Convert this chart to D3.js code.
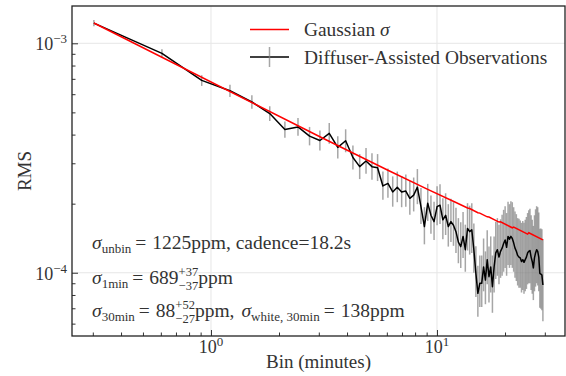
<!DOCTYPE html>
<html>
<head>
<meta charset="utf-8">
<script src="https://cdn.jsdelivr.net/npm/d3@7"></script>
<style>
body { margin: 0; background: #fff; }
text { font-family: "Liberation Serif", "Times New Roman", serif; fill: #333; }
</style>
</head>
<body>
<svg id="chart" width="566" height="376"></svg>
<script>
// cadence of the unbinned light curve, seconds
var CADENCE = 18.2;

// number of frames per bin
var binN = [1, 2, 3, 4, 5, 6, 7, 8, 9, 10,
    11, 12, 13, 14, 15, 16, 17, 18, 19, 20,
    21, 22, 23, 24, 25, 26, 27, 28, 29, 30,
    31, 32, 33, 34, 35, 36, 37, 38, 39, 40,
    41, 42, 43, 44, 45, 46, 47, 48, 49, 50,
    51, 52, 53, 54, 55, 56, 57, 58, 59, 60,
    61, 62, 63, 64, 65, 66, 67, 68, 69, 70,
    71, 72, 73, 74, 75, 76, 77, 78, 79, 80,
    81, 82, 83, 84, 85, 86, 87, 88, 89, 90,
    91, 92, 93, 94, 95, 96, 97];

// observed rms per bin size (ppm)
var rmsPpm = [1225, 904, 689, 621, 555, 494, 421, 432, 394, 377,
    405, 352, 376, 318, 290, 307, 290, 287, 239, 245,
    225, 236, 225, 227, 211, 218, 236, 194, 159, 201,
    178, 167, 194, 197, 170, 178, 159, 167, 161, 151,
    136, 130, 144, 126, 156, 151, 154, 126, 99.4, 81.3,
    89.9, 89.9, 106, 92.9, 114, 96.1, 106, 86.9, 106, 122,
    126, 117, 124, 128, 134, 139, 129, 144, 140, 144,
    141, 135, 128, 124, 119, 117, 116, 112, 114, 111,
    114, 117, 122, 124, 125, 117, 112, 105, 116, 122,
    126, 124, 117, 99.4, 98.7, 97.7, 88.4];

// lower / upper error (ppm)
var errLo = [37, 38, 37, 37, 37, 36, 33, 37, 35, 36,
    40, 37, 41, 36, 34, 37, 36, 36, 31, 33,
    31, 33, 32, 33, 32, 33, 37, 31, 26, 33,
    30, 28, 33, 34, 30, 32, 29, 31, 30, 29,
    26, 25, 28, 25, 31, 31, 32, 26, 21, 17,
    19, 19, 23, 20, 25, 22, 24, 20, 24, 28,
    29, 28, 29, 31, 33, 34, 32, 36, 35, 36,
    36, 34, 33, 32, 31, 31, 30, 30, 30, 30,
    31, 32, 33, 34, 35, 33, 31, 29, 33, 35,
    36, 36, 34, 29, 29, 29, 27];
var errHi = [37, 39, 37, 38, 39, 38, 35, 40, 38, 40,
    44, 41, 46, 41, 39, 43, 42, 42, 37, 40,
    38, 40, 39, 41, 40, 42, 47, 40, 34, 43,
    39, 37, 44, 46, 41, 44, 40, 43, 42, 41,
    37, 36, 40, 36, 45, 45, 47, 38, 31, 26,
    29, 29, 35, 31, 39, 34, 38, 32, 38, 45,
    47, 45, 47, 51, 54, 56, 53, 60, 59, 61,
    62, 58, 57, 56, 54, 55, 53, 53, 54, 54,
    56, 58, 60, 63, 65, 61, 58, 55, 62, 67,
    69, 69, 66, 56, 57, 57, 52];

// expected gaussian sigma (ppm), read at its breakpoints
var gaussN = [1, 10, 20, 30, 40, 45, 46, 50, 51, 55, 56, 62, 63, 71, 72, 83, 84, 97];
var gaussPpm = [1226, 391.3, 279.6, 231.0, 202.3, 191.5, 190.4, 182.6, 181.9, 175.2,
    175.0, 166.3, 166.7, 157.0, 158.2, 147.3, 149.4, 139.1];

var xMajor = [1, 10];
var xMajorExp = ["0", "1"];
var yMajor = [1e-4, 1e-3];
var yMajorExp = ["\u22124", "\u22123"];
var legendLabels = ["Gaussian ", "Diffuser-Assisted Observations"];

var svg = d3.select("#chart");
var m = { left: 72, right: 565, top: 6, bottom: 336 };

var x = d3.scaleLog().domain([0.2427, 36.85]).range([m.left, m.right]);
var y = d3.scaleLog().domain([5.30e-5, 1.454e-3]).range([m.bottom, m.top]);

function minutes(n) { return n * CADENCE / 60; }

var obs = binN.map(function (n, i) {
    return { x: minutes(n), v: rmsPpm[i] * 1e-6, lo: errLo[i] * 1e-6, hi: errHi[i] * 1e-6 };
});
var gauss = gaussN.map(function (n, i) {
    return { x: minutes(n), v: gaussPpm[i] * 1e-6 };
});

// grid
var grid = svg.append("g").attr("stroke", "#e6e6e6").attr("stroke-width", 1);
xMajor.forEach(function (d) {
    grid.append("line").attr("x1", x(d)).attr("x2", x(d)).attr("y1", m.top).attr("y2", m.bottom);
});
yMajor.forEach(function (d) {
    grid.append("line").attr("x1", m.left).attr("x2", m.right).attr("y1", y(d)).attr("y2", y(d));
});

// ticks (pointing inward)
var xMinor = x.ticks().filter(function (d) { return xMajor.indexOf(d) < 0; });
var yMinor = y.ticks().filter(function (d) {
    return !yMajor.some(function (t) { return Math.abs(t - d) < 1e-12; });
});

function styleAxis(g) {
    g.select(".domain").remove();
    g.selectAll("line").attr("stroke", "#333").attr("stroke-width", 1);
}
svg.append("g").attr("transform", "translate(0," + m.bottom + ")")
    .call(d3.axisBottom(x).tickValues(xMinor).tickSize(-3.5).tickFormat(""))
    .call(styleAxis);
svg.append("g").attr("transform", "translate(0," + m.bottom + ")")
    .call(d3.axisBottom(x).tickValues(xMajor).tickSize(-6).tickFormat(""))
    .call(styleAxis);
svg.append("g").attr("transform", "translate(" + m.left + ",0)")
    .call(d3.axisLeft(y).tickValues(yMinor).tickSize(-3.5).tickFormat(""))
    .call(styleAxis);
svg.append("g").attr("transform", "translate(" + m.left + ",0)")
    .call(d3.axisLeft(y).tickValues(yMajor).tickSize(-6).tickFormat(""))
    .call(styleAxis);

// tick labels
xMajor.forEach(function (d, i) {
    var t = svg.append("text").attr("x", x(d)).attr("y", 353)
        .attr("text-anchor", "middle").style("font-size", "18px");
    t.append("tspan").text("10");
    t.append("tspan").attr("dy", -7).style("font-size", "13px").text(xMajorExp[i]);
});
yMajor.forEach(function (d, i) {
    var t = svg.append("text").attr("x", 67).attr("y", y(d) + 7)
        .attr("text-anchor", "end").style("font-size", "18px");
    t.append("tspan").text("10");
    t.append("tspan").attr("dy", -7).style("font-size", "13px").text(yMajorExp[i]);
});

// error bars
svg.append("g").selectAll("line").data(obs).join("line")
    .attr("x1", function (d) { return x(d.x); })
    .attr("x2", function (d) { return x(d.x); })
    .attr("y1", function (d) { return y(d.v + d.hi); })
    .attr("y2", function (d) { return y(d.v - d.lo); })
    .attr("stroke", "#808080").attr("stroke-opacity", 0.7).attr("stroke-width", 1.5);

var line = d3.line().x(function (d) { return x(d.x); }).y(function (d) { return y(d.v); });

svg.append("path").datum(obs).attr("d", line)
    .attr("fill", "none").attr("stroke", "#000").attr("stroke-width", 1.5)
    .attr("stroke-linejoin", "round");
svg.append("path").datum(gauss).attr("d", line)
    .attr("fill", "none").attr("stroke", "#ff0000").attr("stroke-width", 1.5);

// frame
svg.append("rect").attr("x", m.left).attr("y", m.top)
    .attr("width", m.right - m.left).attr("height", m.bottom - m.top)
    .attr("fill", "none").attr("stroke", "#222").attr("stroke-width", 1.3);

// legend
var lg = svg.append("g");
lg.append("line").attr("x1", 250).attr("x2", 289).attr("y1", 29.5).attr("y2", 29.5)
    .attr("stroke", "#ff0000").attr("stroke-width", 1.5);
lg.append("line").attr("x1", 250).attr("x2", 289).attr("y1", 57).attr("y2", 57)
    .attr("stroke", "#000").attr("stroke-width", 1.5);
lg.append("line").attr("x1", 269.5).attr("x2", 269.5).attr("y1", 47).attr("y2", 67)
    .attr("stroke", "#808080").attr("stroke-opacity", 0.7).attr("stroke-width", 1.5);
var l1 = lg.append("text").attr("x", 304).attr("y", 36).style("font-size", "19.4px");
l1.append("tspan").text(legendLabels[0]);
l1.append("tspan").style("font-style", "italic").text("\u03c3");
lg.append("text").attr("x", 304).attr("y", 64).style("font-size", "19.4px").text(legendLabels[1]);

// axis labels
svg.append("text").attr("x", (m.left + m.right) / 2).attr("y", 368)
    .attr("text-anchor", "middle").style("font-size", "19px").text("Bin (minutes)");
svg.append("text").attr("transform", "translate(31," + (m.top + m.bottom) / 2 + ") rotate(-90)")
    .attr("text-anchor", "middle").style("font-size", "19px").text("RMS");

// annotation text, laid out run by run
function drawRuns(x0, y0, runs) {
    var cx = x0;
    runs.forEach(function (r) {
        if (r.gap) { cx += r.gap; return; }
        if (r.stack) {
            var a = svg.append("text").attr("x", cx).attr("y", y0 - 8).style("font-size", "12.5px").text(r.stack[0]);
            var b = svg.append("text").attr("x", cx).attr("y", y0 + 5.5).style("font-size", "12.5px").text(r.stack[1]);
            cx += Math.max(a.node().getComputedTextLength(), b.node().getComputedTextLength());
            return;
        }
        var t = svg.append("text").attr("x", cx).attr("y", y0 + (r.dy || 0))
            .style("font-size", (r.size || 19.5) + "px")
            .style("font-style", r.it ? "italic" : null)
            .text(r.t);
        cx += t.node().getComputedTextLength();
    });
}

drawRuns(92, 249, [
    { t: "\u03c3", it: true }, { t: "unbin", size: 13, dy: 4 }, { gap: 4 },
    { t: "=" }, { gap: 6 }, { t: "1225ppm, cadence=18.2s" }
]);
drawRuns(92, 284, [
    { t: "\u03c3", it: true }, { t: "1min", size: 13, dy: 4 }, { gap: 4 },
    { t: "=" }, { gap: 6 }, { t: "689" }, { stack: ["+37", "\u221237"] }, { t: "ppm" }
]);
drawRuns(92, 317, [
    { t: "\u03c3", it: true }, { t: "30min", size: 13, dy: 4 }, { gap: 4 },
    { t: "=" }, { gap: 6 }, { t: "88" }, { stack: ["+52", "\u221227"] }, { t: "ppm," }, { gap: 7 },
    { t: "\u03c3", it: true }, { t: "white, 30min", size: 13, dy: 4 }, { gap: 4 },
    { t: "=" }, { gap: 6 }, { t: "138ppm" }
]);
</script>
</body>
</html>
